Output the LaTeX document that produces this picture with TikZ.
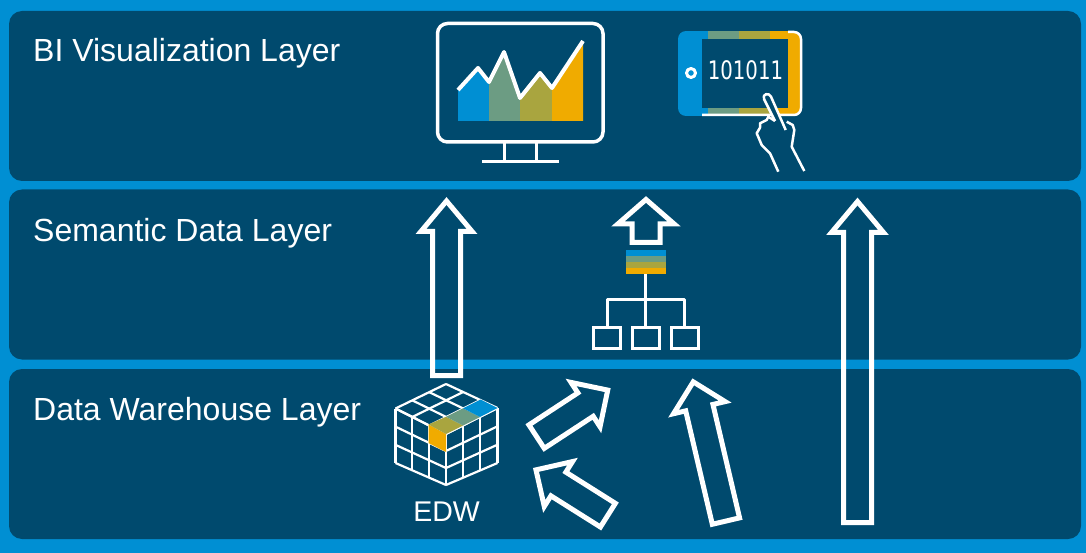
\documentclass[tikz,border=0pt]{standalone}
\usepackage{fontspec}
\setmainfont{Liberation Sans}
\newfontfamily\digitfont{DejaVu Sans Condensed}
\usetikzlibrary{shapes.arrows,calc}

\definecolor{frameBlue}{HTML}{008FD3}
\definecolor{panelBlue}{HTML}{004A6E}
\definecolor{chartGreen}{HTML}{6C9C83}
\definecolor{chartOlive}{HTML}{A9A53F}
\definecolor{chartYellow}{HTML}{F0AB00}

\tikzset{
  panel/.style={rectangle, rounded corners=13pt, fill=panelBlue, minimum width=1072pt, minimum height=170pt, inner sep=0pt},
  layerlabel/.style={anchor=base west, text=white, inner sep=0pt, font=\fontsize{32}{36}\selectfont},
  blockarrow/.style={single arrow, draw=white, line width=5pt, anchor=tail, inner xsep=0pt, inner ysep=11.5pt,
    minimum width=48pt, single arrow head extend=12.5pt, single arrow tip angle=90},
  iconline/.style={draw=white, line width=3pt, line join=round},
  iconbox/.style={rectangle, draw=white, line width=3pt, minimum width=27pt, minimum height=21pt, inner sep=0pt}
}

\begin{document}
\begin{tikzpicture}[x=1pt, y=-1pt]
  \fill [frameBlue] (0,0) rectangle (1086,553);
  \useasboundingbox (0,0) rectangle (1086,553);

  \foreach \layer/\ypos/\ybase/\name in {bi/96/62/BI Visualization Layer, sem/274.5/242/Semantic Data Layer, dw/454/420.5/Data Warehouse Layer} {
    \node [panel] (\layer Panel) at (545,\ypos) {};
    \node [layerlabel] (\layer Label) at (33,\ybase) {\name};
  }

  % monitor
  \fill [frameBlue] (458,90) -- (478,68) -- (489,82) -- (489,121) -- (458,121) -- cycle;
  \fill [chartGreen] (489,82) -- (504,52) -- (520,98) -- (520,121) -- (489,121) -- cycle;
  \fill [chartOlive] (520,98) -- (540,73) -- (552,88) -- (552,121) -- (520,121) -- cycle;
  \fill [chartYellow] (552,88) -- (583,41) -- (583,121) -- (552,121) -- cycle;
  \draw [iconline, line width=4pt] (458,90) -- (478,68) -- (489,82) -- (504,52) -- (520,98) -- (540,73) -- (552,88) -- (583,41);
  \draw [iconline, line width=3.5pt, rounded corners=10pt] (437.5,23.5) rectangle (603,142);
  \draw [iconline] (504,142) -- (504,162) (536,142) -- (536,162);
  \draw [iconline] (482,162) -- (559,162);

  % tablet
  \begin{scope}
    \clip [rounded corners=8pt] (678,31) rectangle (801,116);
    \fill [frameBlue] (678,31) rectangle (708,116);
    \fill [chartGreen] (708,31) rectangle (739,116);
    \fill [chartOlive] (739,31) rectangle (770,116);
    \fill [chartYellow] (770,31) rectangle (801,116);
  \end{scope}
  \fill [panelBlue] (702,39) rectangle (788,108);
  \draw [iconline, line width=2.5pt, rounded corners=7pt] (788,32) -- (801,32) -- (801,115) -- (702,115);
  \draw [iconline, line width=3pt] (691,73) circle (4.5pt);
  \node [text=white, inner sep=0pt, xscale=.86, font=\digitfont\fontsize{25.5}{28}\selectfont] (tabletText) at (745.5,70) {101011};

  % hand
  \draw [iconline, fill=panelBlue, line width=2.5pt] (775,121) -- (764,99) .. controls (762,94) and (769,92) .. (771,96.7) -- (785.7,130);
  \draw [iconline, fill=panelBlue, line width=2.5pt] (775,121) -- (768.3,116.7) -- (766.7,120) -- (760,123.3) -- (760,127.7) -- (756.7,133.3) -- (761.7,145) -- (770,153.3) -- (778.3,171.7);
  \draw [iconline, line width=2.5pt] (786.7,121.7) -- (792.7,125) -- (794.3,130) -- (791.7,146.7) -- (804.3,171);

  % hierarchy
  \foreach \band/\ytop/\col in {1/250/frameBlue, 2/256/chartGreen, 3/262/chartOlive, 4/268/chartYellow}
    \fill [\col] (626,\ytop) rectangle (666,\ytop+6.2);
  \coordinate (stackBottom) at (645.7,274);
  \coordinate (hub) at (645.7,299);
  \node [iconbox] (boxA) at (607,337.5) {};
  \node [iconbox] (boxB) at (645.7,337.5) {};
  \node [iconbox] (boxC) at (684.7,337.5) {};
  \draw [iconline] (stackBottom) -- (boxB.north);
  \draw [iconline] (boxA.north) |- (hub) -| (boxC.north);

  % cube
  \coordinate (cT) at (446,384);
  \coordinate (cL) at (395.5,408.5);
  \coordinate (cR) at (497.5,408);
  \coordinate (cF) at (446,434);
  \coordinate (cBL) at (395.5,463);
  \coordinate (cBR) at (497.5,463);
  \coordinate (cB) at (446,485);
  \foreach \f in {0,0.333,0.667,1} {
    \draw [iconline, line width=2.2pt] ($(cT)!\f!(cR)$) -- ($(cL)!\f!(cF)$);
    \draw [iconline, line width=2.2pt] ($(cT)!\f!(cL)$) -- ($(cR)!\f!(cF)$);
    \draw [iconline, line width=2.2pt] ($(cL)!\f!(cF)$) -- ($(cBL)!\f!(cB)$);
    \draw [iconline, line width=2.2pt] ($(cL)!\f!(cBL)$) -- ($(cF)!\f!(cB)$);
    \draw [iconline, line width=2.2pt] ($(cF)!\f!(cR)$) -- ($(cB)!\f!(cBR)$);
    \draw [iconline, line width=2.2pt] ($(cF)!\f!(cB)$) -- ($(cR)!\f!(cBR)$);
  }
  \fill [chartYellow] (428.5,424.5) -- (cF) -- (446,452) -- (428.5,443) -- cycle;
  \fill [chartOlive] (cF) -- (463,425.5) -- (446,416.8) -- (428.5,424.5) -- cycle;
  \fill [chartGreen] (463,425.5) -- (480,417) -- (463,408.3) -- (446,416.8) -- cycle;
  \fill [frameBlue] (480,417) -- (cR) -- (480.5,399.5) -- (463,408.3) -- cycle;
  \node [text=white, inner sep=0pt, font=\fontsize{28.5}{32}\selectfont] (edwLabel) at (446.5,512) {EDW};

  % arrows
  \node [blockarrow, rotate=90, minimum height=174.5pt, minimum width=46pt, single arrow head extend=11.5pt, single arrow tip angle=80] (edwToBi) at (446.5,378) {};
  \node [blockarrow, rotate=90, minimum height=43pt, minimum width=51pt, single arrow head extend=14pt, single arrow tip angle=98] (semToBi) at (646,245) {};
  \node [blockarrow, rotate=90, minimum height=321pt, minimum width=47pt, single arrow head extend=12pt, single arrow tip angle=80] (srcToBi) at (857.5,525) {};
  \node [blockarrow, rotate=33.2, minimum height=85pt] (edwToSem) at (534.5,438) {};
  \node [blockarrow, rotate=147.8, minimum height=85pt] (srcToEdw) at (610,516.5) {};
  \node [blockarrow, rotate=103.2, minimum height=143pt] (srcToSem) at (726.5,523.5) {};
\end{tikzpicture}
\end{document}
